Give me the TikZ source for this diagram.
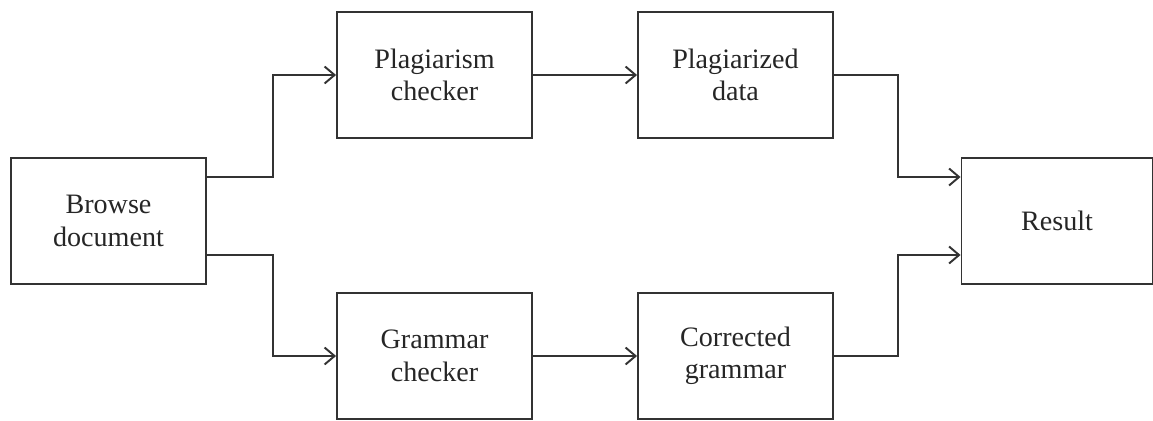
\documentclass[tikz,border=0pt]{standalone}
\usepackage{fontspec}
\setmainfont{Liberation Serif}
\usepackage{tikz}
\usetikzlibrary{arrows.meta}

\begin{document}
\begin{tikzpicture}[x=0.02cm, y=-0.02cm,
        main/.style = {draw=black!80, line width=1.1pt, minimum width=3.9cm, minimum height=2.52cm,
            align=center, text=black!85, font=\fontsize{16}{18.5}\selectfont},
        link/.style = {draw=black!80, line width=1.1pt, -{Straight Barb[length=2mm,width=3.4mm]}}]
            \useasboundingbox (0,0) rectangle (1153,420);

            \node[main] (browse) at (108.5,221) {Browse\\document};

            \node[main] (plag) at (434.5,75) {Plagiarism\\checker};
            \node[main] (gram) at (434.5,356) {Grammar\\checker};
            \node[main] (pdata) at (735.5,75) {Plagiarized\\data};
            \node[main] (cgram) at (735.5,356) {Corrected\\grammar};
            \node[main, minimum width=3.82cm] (result) at (1057,221) {Result};

            \path[link] ([yshift=0.88cm]browse.east) -- ++(66,0) |- (plag.west);
            \path[link] ([yshift=-0.68cm]browse.east) -- ++(66,0) |- (gram.west);
            \path[link] (plag) -- (pdata);
            \path[link] (gram) -- (cgram);
            \path[link] (pdata.east) -- ++(64,0) |- ([yshift=0.88cm]result.west);
            \path[link] (cgram.east) -- ++(64,0) |- ([yshift=-0.68cm]result.west);
        \end{tikzpicture}
\end{document}
